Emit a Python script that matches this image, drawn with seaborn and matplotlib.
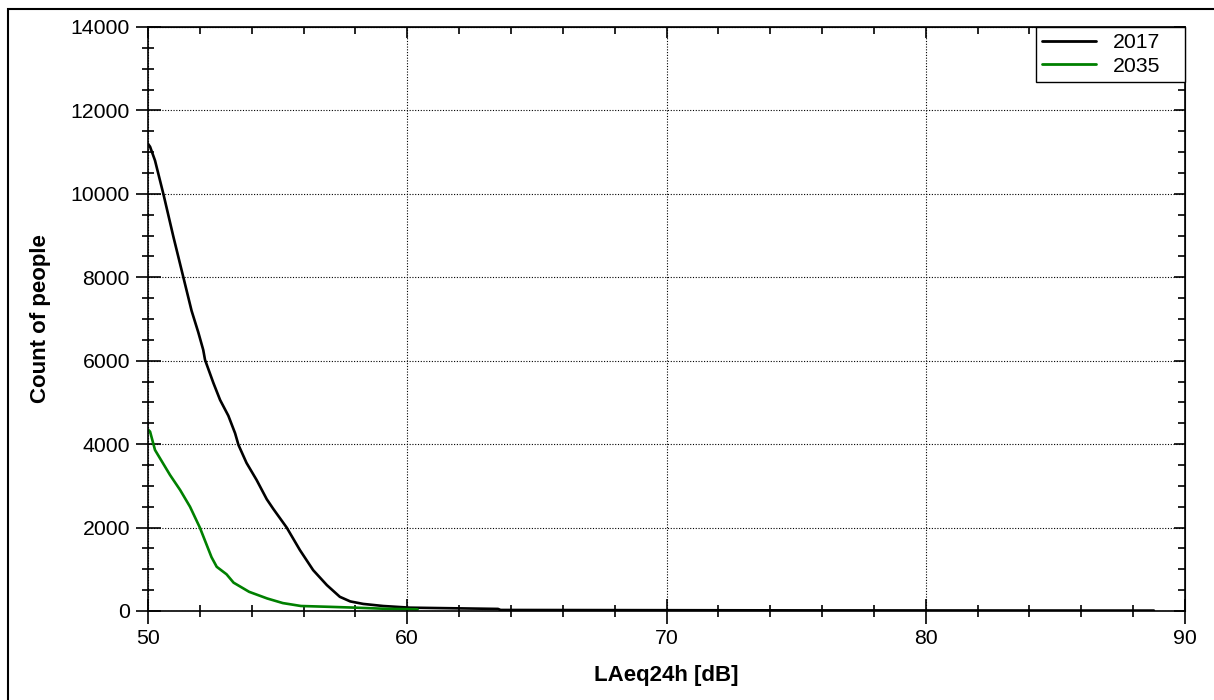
import pandas as pd
import numpy as np
import matplotlib
matplotlib.use("Agg")
import matplotlib.pyplot as plt
import seaborn as sns
from matplotlib.ticker import MultipleLocator
from matplotlib.patches import Rectangle

# values
level_2017 = [50.0, 50.08, 50.27, 50.6, 50.98, 51.36, 51.68, 51.94, 52.13, 52.2, 52.52,
              52.78, 53.1, 53.36, 53.49, 53.8, 54.19, 54.58, 54.83, 55.35, 55.86, 56.37,
              56.9, 57.4, 57.8, 58.3, 59.07, 60.1, 63.5, 63.6, 75.0, 88.8]
count_2017 = [11200, 11130, 10800, 9980, 8970, 8010, 7200, 6680, 6260, 6020, 5470,
              5060, 4680, 4260, 3980, 3550, 3140, 2680, 2450, 2000, 1460, 980,
              620, 340, 230, 170, 120, 80, 50, 25, 15, 10]

level_2035 = [50.0, 50.08, 50.27, 50.85, 51.24, 51.62, 52.0, 52.45, 52.65, 53.03, 53.3,
              53.9, 54.6, 55.2, 55.9, 57.0, 58.0, 59.07, 60.4]
count_2035 = [4350, 4300, 3860, 3260, 2900, 2500, 2000, 1290, 1060, 880, 680,
              460, 300, 190, 120, 100, 80, 55, 40]

years = ["2017", "2035"]
colors = ["black", "#008000"]

df = pd.concat([
    pd.DataFrame({"level": level_2017, "count": count_2017, "year": years[0]}),
    pd.DataFrame({"level": level_2035, "count": count_2035, "year": years[1]}),
])

sns.set_style("white")
plt.rcParams["font.family"] = ["Liberation Sans", "DejaVu Sans"]
plt.rcParams["text.color"] = "black"
plt.rcParams["axes.labelcolor"] = "black"
plt.rcParams["xtick.color"] = "black"
plt.rcParams["ytick.color"] = "black"

fig = plt.figure(figsize=(12.14, 7.0), dpi=100)
ax = fig.add_axes([148 / 1214, 89 / 700, (1185 - 148) / 1214, (611 - 27) / 700])

sns.lineplot(data=df, x="level", y="count", hue="year", palette=dict(zip(years, colors)),
             linewidth=1.9, sort=False, ax=ax)

ax.set_xlim(50, 90)
ax.set_ylim(0, 14000)
ax.xaxis.set_major_locator(MultipleLocator(10))
ax.xaxis.set_minor_locator(MultipleLocator(2))
ax.yaxis.set_major_locator(MultipleLocator(2000))
ax.yaxis.set_minor_locator(MultipleLocator(500))
ax.tick_params(which="both", bottom=True, left=True, top=False, right=False)
ax.tick_params(which="major", direction="inout", length=18, width=1.2, color="black",
               labelsize=15.3, labelcolor="black", pad=4)
ax.tick_params(which="minor", direction="inout", length=9, width=1.2, color="black")
ax.grid(True, which="major", linestyle=(0, (1, 1.5)), color="black", linewidth=0.8)

# inward ticks on the top and right spines
top = ax.secondary_xaxis("top")
top.xaxis.set_major_locator(MultipleLocator(10))
top.xaxis.set_minor_locator(MultipleLocator(2))
top.tick_params(which="both", top=True, direction="in", labeltop=False, width=1.2, color="black")
top.tick_params(which="major", length=8)
top.tick_params(which="minor", length=5)
right = ax.secondary_yaxis("right")
right.yaxis.set_major_locator(MultipleLocator(2000))
right.yaxis.set_minor_locator(MultipleLocator(500))
right.tick_params(which="both", right=True, direction="in", labelright=False, width=1.2, color="black")
right.tick_params(which="major", length=8)
right.tick_params(which="minor", length=5)

for s in ax.spines.values():
    s.set_color("black")
    s.set_linewidth(1.2)

ax.set_xlabel("LAeq24h [dB]", fontsize=16, fontweight="bold", labelpad=12)
ax.set_ylabel("Count of people", fontsize=16, fontweight="bold", labelpad=14)

handles, labels = ax.get_legend_handles_labels()
leg = ax.legend(handles, labels, loc="upper right", mode="expand",
                bbox_to_anchor=((1036 - 148) / 1037, 0, (1185 - 1036) / 1037, 1),
                borderaxespad=0, fancybox=False, framealpha=1, edgecolor="black",
                fontsize=15.3, handlelength=2.5, borderpad=0.3, labelspacing=0.2,
                handletextpad=0.8)
leg.get_frame().set_linewidth(1.0)
for ln in leg.get_lines():
    ln.set_linewidth(2)

# outer frame around the whole picture
fig.patches.append(Rectangle((8 / 1214, -0.02), 1.05, (700 - 9) / 700 + 0.02,
                             transform=fig.transFigure, fill=False, edgecolor="black",
                             linewidth=1.5, clip_on=False))

fig.savefig("out.png", dpi=100)
